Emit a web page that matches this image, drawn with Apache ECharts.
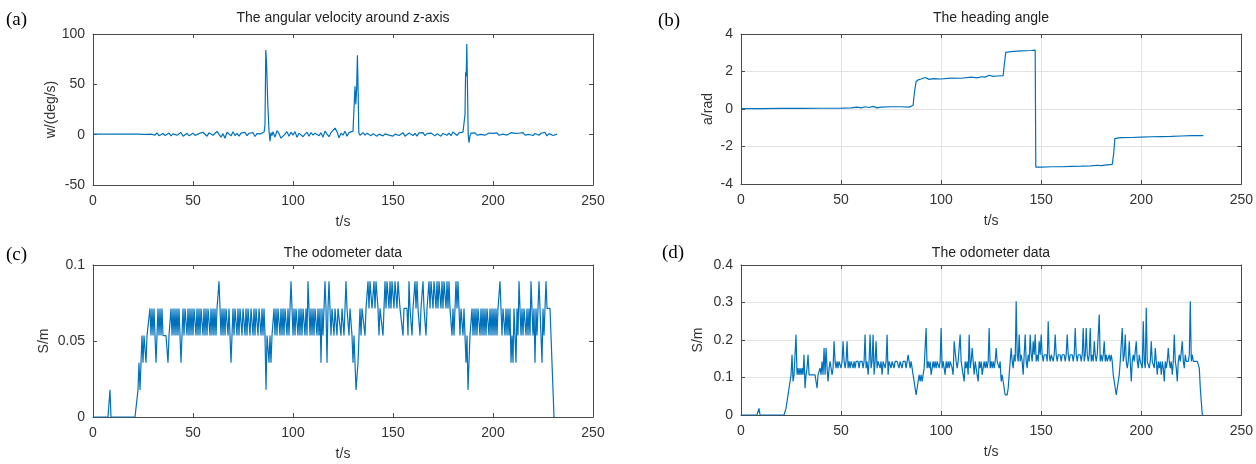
<!DOCTYPE html>
<html>
<head>
<meta charset="utf-8">
<script src="https://cdn.jsdelivr.net/npm/echarts@6/dist/echarts.min.js"></script>
<style>
  html, body { margin: 0; padding: 0; background: #fff; }
  #chart { width: 1256px; height: 464px; }
</style>
</head>
<body>
<div id="chart"></div>
<script>
// x axis ticks shared by the four panels
const timeTicks = [0, 50, 100, 150, 200, 250];

// (a) angular velocity around z, [t, w]
const angularData = [
  [0, 0.5], [23, 0.5], [24, 0.8], [25, 0.3], [26, 1.0], [27, 0.2], [28, 0.9], [29, 0.5], [30, 1.5], [31, -0.5],
  [32, 1.8], [33, -1.0], [34, 0.6], [35, 1.2], [36, -0.8], [37, 0.5], [38, 1.6], [39, -1.2], [40, 0.8], [41, 2.0],
  [42, -0.6], [43, 1.0], [44, 2.2], [45, -1.5], [46, 0.4], [47, 1.2], [48, -1.0], [49, 0.3], [50, 1.5], [51, -0.8],
  [52, 0.6], [53, 1.0], [54, -0.5], [55, 2.4], [56, 2.0], [57, -1.6], [58, 1.8], [59, 3.0], [60, -0.6], [61, 1.0],
  [62, 3.2], [63, 2.0], [64, -2.4], [65, 1.0], [66, -3.6], [67, 2.4], [68, 1.2], [69, -1.2], [70, 2.8], [71, -0.8],
  [72, 1.2], [73, -1.5], [74, 1.6], [75, 0.2], [76, 2.2], [77, -1.0], [78, 1.4], [79, -0.4], [80, 2.0], [81, -1.8],
  [82, 1.0], [83, 2.0], [84, 0.8], [85, 2.5], [85.6, 3.0], [86, 10], [86.4, 84], [86.8, 70], [87.1, 50], [87.4, 30],
  [87.7, 17], [88, 4], [88.5, -6.5], [89, 2], [89.5, -1], [90, 3], [91, -2.5], [92, 4], [93, 1], [94, -3.5],
  [95, -4.5], [96, 0.5], [97, 3], [98, -1.5], [99, 2.5], [100, -0.5], [101, 3], [102, -2.5], [103, 1.5], [104, 3],
  [105, -2], [106, 0.5], [107, 2.5], [108, -1.5], [109, 2], [110, -0.5], [111, 1.5], [112, 3], [113, -1], [114, 2],
  [115, -2.5], [116, 3.5], [117, 0.5], [118, -2], [119, 2], [120, 1], [121, 6.5], [122, 3], [123, -3], [124, 1.5],
  [125, -0.5], [126, 3.5], [127, -1.5], [128, 2], [129, 1], [130, 3.5], [130.6, 4], [131, 48], [131.4, 30], [131.8, 45],
  [132.2, 79], [132.6, 40], [132.9, 2], [133.5, -0.5], [134, 1], [135, 2], [136, -0.5], [137, 1.5], [138, 2.5], [139, -1],
  [140, 1], [141, 2.5], [142, -1.5], [143, 0.5], [144, 1.8], [145, -1.2], [146, 0.8], [147, 2.2], [148, -0.4], [149, 1.5],
  [150, -1.5], [151, 0.6], [152, 1.8], [153, -0.8], [154, 1.0], [155, 2.0], [156, -1.5], [157, 0.4], [158, 1.6], [159, 2.4],
  [160, -0.8], [161, 1.2], [162, -1.4], [163, 1.8], [164, 0.2], [165, 2.0], [166, -1.0], [167, 1.0], [168, -0.6], [169, 1.6],
  [170, 2.4], [171, -1.2], [172, 0.8], [173, 1.4], [174, -1.6], [175, 1.2], [176, 2.0], [177, -0.6], [178, 1.6], [179, -1.0],
  [180, 2.6], [181, 3.6], [182, -0.8], [183, 1.8], [184, 0.4], [185, 2.6], [185.6, 4], [186, 20], [186.3, 62], [186.6, 58],
  [186.9, 90], [187.3, 40], [187.6, 0], [188, -8], [188.5, -1], [189, 1.5], [190, 0.5], [191, 1.8], [192, -0.4], [193, 1.2],
  [194, 0.2], [195, 2.0], [196, -0.5], [197, 1.0], [198, 1.6], [199, -0.2], [200, 1.2], [201, 0.4], [202, 1.8], [203, -0.6],
  [204, 1.0], [205, 0.6], [206, 1.5], [207, -0.4], [208, 1.0], [209, 2.0], [210, 0.2], [211, 1.2], [212, -0.6], [213, 1.4],
  [214, 0.8], [215, 2.0], [216, -0.4], [217, 1.0], [218, 0.2], [219, 1.6], [220, -0.8], [221, 1.2], [222, 2.0], [223, -0.6],
  [224, 1.4], [225, 0.2], [226, 2.2], [227, -1.2], [228, 1.0], [229, 1.6], [230, -0.8], [231, 1.0], [232, 0.6]
];

// (b) heading angle, [t, a]
const headingData = [
  [0, 0.02], [10, 0.02], [20, 0.03], [30, 0.03], [40, 0.04], [50, 0.05], [55, 0.06], [58, 0.1], [60, 0.06], [62, 0.12],
  [64, 0.08], [66, 0.14], [68, 0.06], [70, 0.1], [75, 0.12], [80, 0.12], [84, 0.1], [86, 0.2], [86.8, 1.0], [87.5, 1.45],
  [88.5, 1.55], [90, 1.6], [92, 1.68], [94, 1.58], [96, 1.62], [100, 1.6], [105, 1.65], [110, 1.64], [115, 1.7], [118, 1.66],
  [120, 1.72], [122, 1.7], [124, 1.8], [126, 1.74], [128, 1.76], [131, 1.78], [131.6, 2.4], [132.3, 3.02], [133, 3.05], [135, 3.06],
  [140, 3.1], [145, 3.12], [147, 3.14], [147.3, -3.1], [150, -3.1], [155, -3.08], [160, -3.08], [165, -3.06], [170, -3.05], [175, -3.03],
  [178, -3.0], [180, -3.02], [183, -2.98], [185.5, -2.95], [186.2, -2.4], [186.8, -1.58], [188, -1.55], [190, -1.53], [195, -1.52], [200, -1.5],
  [205, -1.48], [210, -1.47], [215, -1.46], [220, -1.44], [225, -1.42], [231, -1.42]
];

// (c), (d) odometer: pulse counts per 0.5 s sample, one row per 10 s
const sampleStep = 0.5;
const metrePerCount = 1 / 56;

const odometerCountsC = [
  0,0,0,0,0,0,0,0,0,0, 0,0,0,0,0,0,0,1,0,0,
  0,0,0,0,0,0,0,0,0,0, 0,0,0,0,0,0,0,0,0,0,
  0,0,0,0,0,1,2,1,2,3, 2,3,3,2,3,3,3,4,3,4,
  3,4,3,2,3,4,3,4,3,4, 3,3,3,3,3,2,3,3,4,3,
  4,3,4,3,4,3,4,3,2,3, 4,3,4,4,3,4,3,4,3,4,
  3,4,4,3,4,3,4,3,4,4, 3,4,3,4,3,4,4,3,4,3,
  4,3,4,3,4,4,5,4,3,4, 3,4,3,4,4,3,4,3,2,3,
  4,3,4,4,3,4,3,4,4,3, 4,4,3,4,3,4,4,3,4,4,
  3,4,3,4,4,3,4,4,3,4, 3,4,3,1,3,3,2,3,2,3,
  3,4,3,4,3,4,4,3,4,3, 4,3,4,4,3,4,3,4,5,4,
  3,4,3,4,4,3,4,3,4,3, 4,4,3,4,3,5,4,3,4,3,
  4,3,4,4,3,4,3,4,2,4, 3,4,5,4,2,4,5,4,3,4,
  4,3,4,4,3,4,4,4,3,4, 4,3,4,5,4,4,3,4,4,3,
  2,3,2,1,1,2,3,4,3,4, 4,4,3,4,4,5,4,5,5,4,
  4,5,4,5,5,4,3,4,4,4, 3,4,5,4,5,5,4,5,4,5,
  5,4,5,5,4,5,5,4,4,4, 3,4,4,4,4,3,5,4,4,3,
  4,4,5,4,5,4,4,3,4,4, 5,4,4,3,4,4,5,4,5,5,
  4,5,5,4,5,4,5,5,4,5, 4,5,5,4,5,4,5,4,4,3,
  4,3,4,5,4,5,4,3,4,4, 3,4,3,2,3,1,2,3,3,4,
  3,4,3,4,3,4,4,3,4,3, 4,3,4,3,4,4,3,4,3,4,
  3,4,3,4,3,4,4,5,4,3, 4,4,3,4,3,4,3,4,2,3,
  2,4,3,2,4,3,5,4,3,4, 3,4,4,3,4,3,4,3,5,4,
  3,4,2,4,3,4,5,4,3,2, 4,3,4,5,4,4,4,4,3,2,
  1,0,0
];

const odometerCountsD = [
  0,0,0,0,0,0,0,0,0,0, 0,0,0,0,0,0,0,0,1,0,
  0,0,0,0,0,0,0,0,0,0, 0,0,0,0,0,0,0,0,0,0,
  0,0,0,0,0,1,2,3,4,5, 6,9,5,6,6,12,6,7,6,7,
  6,7,6,9,4,6,7,9,6,6, 6,6,6,6,6,6,4,6,6,7,
  6,8,6,10,6,10,7,5,7,8, 7,6,7,11,8,7,8,7,8,8,
  7,8,11,8,7,8,11,7,8,7, 8,8,7,8,7,8,8,8,7,8,
  8,8,7,8,12,7,8,6,8,12, 7,8,12,6,8,11,7,8,8,7,
  8,6,8,8,7,8,12,6,8,8, 7,8,8,7,8,8,8,8,7,8,
  8,7,8,8,8,7,8,9,8,7, 8,7,6,5,4,3,4,5,6,5,
  6,5,6,7,7,13,7,8,7,8, 6,7,8,7,8,7,8,8,7,8,
  13,7,8,7,6,8,7,8,7,8, 8,7,6,11,11,8,7,8,8,12,
  8,7,6,5,8,7,8,6,12,7, 8,10,8,6,8,7,6,5,8,7,
  8,6,7,8,7,8,7,8,13,7, 8,7,8,7,8,10,8,8,7,8,
  5,6,5,4,3,3,3,4,6,8, 10,8,7,9,8,17,9,8,12,8,
  9,8,6,9,12,8,7,9,8,12, 9,8,11,9,12,8,9,8,11,9,
  12,9,8,9,9,9,8,14,9,8, 9,9,8,9,12,9,8,9,9,9,
  8,9,9,9,8,9,12,9,8,9, 9,9,8,9,13,9,8,9,9,9,
  8,9,13,8,9,13,9,8,9,13, 8,9,8,11,9,8,9,9,15,8,
  9,8,9,11,8,9,8,8,9,8, 9,8,6,5,4,3,4,5,6,8,
  8,13,8,9,12,8,7,8,11,8, 5,8,9,8,8,11,8,7,9,8,
  8,7,14,8,7,16,8,8,7,8, 11,8,8,7,10,8,6,8,7,8,
  6,8,7,5,8,7,8,10,8,7, 8,6,8,12,8,7,5,8,9,8,
  8,11,8,7,9,8,8,8,9,17, 8,9,8,8,8,8,8,8,7,4,
  2,0,0
];

const lineColor = '#0072bd';
const axisColor = '#4a4a4a';
const textColor = '#333333';
const fontFamily = 'Liberation Sans, Arial, sans-serif';

function countsToSeries(counts) {
    return counts.map((c, i) => [i * sampleStep, c * metrePerCount]);
}

const chart = echarts.init(document.getElementById('chart'));

// panel layout: grid box, y range, names
const panels = [
    { grid: { left: 93, top: 34, width: 500, height: 151 }, yMin: -50, yMax: 100, yStep: 50,
      yName: 'w/(deg/s)', yGap: 34, showGrid: false, data: angularData },
    { grid: { left: 741, top: 34, width: 501, height: 150 }, yMin: -4, yMax: 4, yStep: 2,
      yName: 'a/rad', yGap: 26, showGrid: true, data: headingData },
    { grid: { left: 93, top: 265, width: 500, height: 152 }, yMin: 0, yMax: 0.1, yStep: 0.05,
      yName: 'S/m', yGap: 42, showGrid: false, data: countsToSeries(odometerCountsC) },
    { grid: { left: 741, top: 265, width: 501, height: 150 }, yMin: 0, yMax: 0.4, yStep: 0.1,
      yName: 'S/m', yGap: 36, showGrid: true, data: countsToSeries(odometerCountsD) }
];

const grids = [], xAxes = [], yAxes = [], series = [];

panels.forEach((p, gi) => {
    grids.push(p.grid);
    const split = { show: p.showGrid, lineStyle: { color: '#e3e3e3', width: 1 } };
    const line = { show: true, onZero: false, lineStyle: { color: axisColor, width: 1 } };
    const tick = { show: true, inside: true, length: 4, lineStyle: { color: axisColor } };

    xAxes.push({
        type: 'value', gridIndex: gi, position: 'bottom',
        min: timeTicks[0], max: timeTicks[timeTicks.length - 1], interval: timeTicks[1] - timeTicks[0],
        axisLine: line, axisTick: tick, splitLine: split,
        axisLabel: { color: textColor, fontSize: 14, fontFamily: fontFamily, margin: 9 },
        name: 't/s', nameLocation: 'middle', nameGap: 30,
        nameTextStyle: { color: textColor, fontSize: 14, fontFamily: fontFamily }
    });
    xAxes.push({
        type: 'value', gridIndex: gi, position: 'top',
        min: timeTicks[0], max: timeTicks[timeTicks.length - 1], interval: timeTicks[1] - timeTicks[0],
        axisLine: line, axisTick: tick, splitLine: { show: false }, axisLabel: { show: false }
    });
    yAxes.push({
        type: 'value', gridIndex: gi, position: 'left',
        min: p.yMin, max: p.yMax, interval: p.yStep,
        axisLine: line, axisTick: tick, splitLine: split,
        axisLabel: { color: textColor, fontSize: 14, fontFamily: fontFamily, margin: 8 },
        name: p.yName, nameLocation: 'middle', nameGap: p.yGap,
        nameTextStyle: { color: textColor, fontSize: 14, fontFamily: fontFamily }
    });
    yAxes.push({
        type: 'value', gridIndex: gi, position: 'right',
        min: p.yMin, max: p.yMax, interval: p.yStep,
        axisLine: line, axisTick: tick, splitLine: { show: false }, axisLabel: { show: false }
    });
    series.push({
        type: 'line', xAxisIndex: gi * 2, yAxisIndex: gi * 2,
        data: p.data, showSymbol: false, symbol: 'none',
        lineStyle: { color: lineColor, width: 1.2 }
    });
});

// titles and panel letters
const titleStyle = { fill: '#222', font: '14px ' + fontFamily, textAlign: 'center', textVerticalAlign: 'middle' };
const letterStyle = { fill: '#000', font: '19px "Liberation Serif", "Times New Roman", serif', textVerticalAlign: 'middle' };
const texts = [
    { x: 343, y: 18, text: 'The angular velocity around z-axis', style: titleStyle },
    { x: 991, y: 18, text: 'The heading angle', style: titleStyle },
    { x: 343, y: 253, text: 'The odometer data', style: titleStyle },
    { x: 991, y: 253, text: 'The odometer data', style: titleStyle },
    { x: 6, y: 20, text: '(a)', style: letterStyle },
    { x: 658, y: 21, text: '(b)', style: letterStyle },
    { x: 6, y: 255, text: '(c)', style: letterStyle },
    { x: 662, y: 253, text: '(d)', style: letterStyle }
];

chart.setOption({
    animation: false,
    backgroundColor: '#ffffff',
    grid: grids,
    xAxis: xAxes,
    yAxis: yAxes,
    series: series,
    graphic: texts.map(t => ({
        type: 'text', x: t.x, y: t.y, silent: true,
        style: Object.assign({ text: t.text }, t.style)
    }))
});
</script>
</body>
</html>
